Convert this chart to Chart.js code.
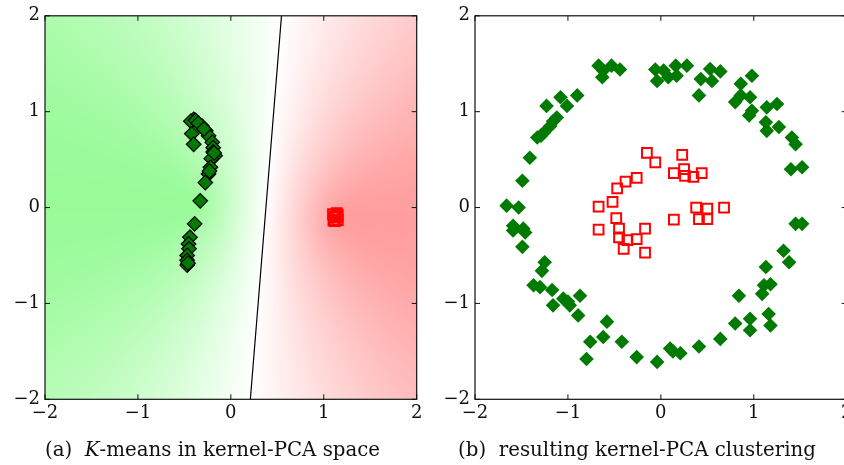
<!DOCTYPE html>
<html>
<head>
<meta charset="utf-8">
<script src="https://cdn.jsdelivr.net/npm/chart.js@4.4.1/dist/chart.umd.min.js"></script>
<style>
  html, body { margin: 0; padding: 0; background: #fff; width: 844px; height: 465px; overflow: hidden; }
  #wrap { position: relative; width: 844px; height: 465px; overflow: hidden; }
  canvas { position: absolute; top: 0; }
  .cap { position: absolute; top: 438px; font-family: "DejaVu Serif", serif; font-size: 19.8px; line-height: 24px; color: #111; white-space: nowrap; text-align: center; }
</style>
</head>
<body>
<div id="wrap">
  <canvas id="left" width="430" height="465" style="left:0px"></canvas>
  <canvas id="right" width="430" height="465" style="left:430px"></canvas>
  <div class="cap" id="capA" style="left:0px; width:425px;">(a)&nbsp; <i>K</i>-means in kernel-PCA space</div>
  <div class="cap" id="capB" style="left:430px; width:414px;">(b)&nbsp; resulting kernel-PCA clustering</div>
</div>
<script>
// ---------- data ----------
const tickValues = [-2, -1, 0, 1, 2];

// (a) points in kernel-PCA space
const leftGreenX = [-0.40, -0.43, -0.38, -0.31, -0.27, -0.24, -0.20, -0.19, -0.19, -0.17, -0.21, -0.42, -0.40, -0.22, -0.24, -0.275, -0.33, -0.39, -0.44, -0.455, -0.45, -0.47, -0.47, -0.47, -0.46, -0.35, -0.29, -0.18, -0.23];
const leftGreenY = [0.92, 0.90, 0.91, 0.85, 0.80, 0.75, 0.68, 0.625, 0.58, 0.54, 0.51, 0.77, 0.66, 0.42, 0.35, 0.26, 0.07, -0.17, -0.31, -0.38, -0.43, -0.50, -0.55, -0.60, -0.58, 0.88, 0.82, 0.57, 0.38];
const leftRedX = [1.10, 1.15, 1.12, 1.14, 1.105, 1.13, 1.12, 1.15];
const leftRedY = [-0.07, -0.13, -0.10, -0.06, -0.135, -0.095, -0.14, -0.08];
const boundaryX = [0.21, 0.545];
const boundaryY = [-2, 2];
const greenCenter = [-0.37, 0.025];
const redCenter = [1.12, -0.10];

// (b) resulting clustering in input space
const rightGreenX = [-0.67, -0.62, -0.63, -0.53, -0.44, -0.06, -0.04, 0.03, 0.08, 0.16, 0.17, 0.28, 0.43, 0.41, 0.53, 0.55, 0.64, 0.98, 0.86, 0.80, 0.86, 0.96, 0.95, 0.98, 1.14, 1.25, 1.13, 1.14, 1.27, 1.41, 1.45, 1.40, 1.52,
  -1.23, -1.08, -1.01, -0.90, -1.12, -1.19, -1.26, -1.33, -1.29, -1.16, -1.41, -1.49, -1.66, -1.53, -1.59, -1.48, 1.45, 1.52,
  -1.59, -1.46, -1.49, -1.25, -1.28, -1.37, -1.30, -1.17, -1.16, -1.05, -0.98, -0.87, -0.89, -1.00, -0.58, -0.76, -0.62, -0.80, -0.42, -0.26, -0.04, 0.10, 0.21, 0.41, 0.64, 0.84, 0.80, 0.96, 0.96, 1.11, 1.18, 1.09, 1.13, 1.32, 1.38, 1.16, 1.18, 0.13];
const rightGreenY = [1.48, 1.43, 1.36, 1.48, 1.44, 1.44, 1.32, 1.43, 1.36, 1.48, 1.375, 1.48, 1.34, 1.17, 1.445, 1.32, 1.42, 1.375, 1.29, 1.10, 1.17, 1.15, 0.96, 1.01, 1.045, 1.08, 0.89, 0.80, 0.84, 0.73, 0.66, 0.40, 0.42,
  1.06, 1.15, 1.06, 1.17, 0.94, 0.85, 0.78, 0.73, 0.75, 0.90, 0.52, 0.28, 0.02, 0.00, -0.19, -0.22, -0.17, -0.17,
  -0.24, -0.26, -0.41, -0.57, -0.66, -0.81, -0.83, -0.86, -1.02, -0.95, -1.02, -0.92, -1.125, -0.98, -1.19, -1.40, -1.35, -1.58, -1.40, -1.56, -1.61, -1.47, -1.52, -1.45, -1.37, -0.92, -1.21, -1.16, -1.28, -0.81, -0.80, -0.90, -0.62, -0.45, -0.57, -1.11, -1.23, -1.50];
const rightRedX = [-0.15, -0.06, 0.23, 0.25, 0.14, 0.26, 0.35, 0.44, -0.26, -0.38, -0.47, -0.67, -0.52, -0.48, 0.14, 0.38, 0.50, 0.68, 0.41, 0.50, -0.67, -0.45, -0.17, -0.45, -0.36, -0.26, -0.40, -0.17];
const rightRedY = [0.57, 0.47, 0.55, 0.40, 0.36, 0.33, 0.32, 0.36, 0.31, 0.27, 0.20, 0.01, 0.06, -0.11, -0.125, 0.00, -0.01, 0.00, -0.12, -0.12, -0.23, -0.22, -0.22, -0.31, -0.34, -0.33, -0.43, -0.47];

// ---------- helpers ----------
const zip = (xs, ys) => xs.map((x, i) => ({ x: x, y: ys[i] }));
const fmt = v => (v < 0 ? '\u2212' + Math.abs(v) : String(v));
const tickFont = { family: 'DejaVu Serif', size: 18 };

const backgroundPlugin = {
  id: 'kmeansBackground',
  beforeDatasetsDraw(chart, args, opts) {
    if (!opts || !opts.enabled) return;
    const ctx = chart.ctx, a = chart.chartArea, sx = chart.scales.x, sy = chart.scales.y;
    const L = Math.round(a.left), T = Math.round(a.top);
    const W = Math.round(a.right) - L, H = Math.round(a.bottom) - T;
    const img = ctx.createImageData(W, H);
    const D = Math.hypot(redCenter[0] - greenCenter[0], redCenter[1] - greenCenter[1]);
    for (let j = 0; j < H; j++) {
      const yv = sy.getValueForPixel(T + j + 0.5);
      for (let i = 0; i < W; i++) {
        const xv = sx.getValueForPixel(L + i + 0.5);
        const dg = Math.hypot(xv - greenCenter[0], yv - greenCenter[1]);
        const dr = Math.hypot(xv - redCenter[0], yv - redCenter[1]);
        let t = (dr - dg) / D;
        t = Math.max(-1, Math.min(1, t));
        let r, g, b;
        if (t >= 0) { r = 255 - t * 103; g = 255 - t * 4; b = 255 - t * 103; }
        else { const u = -t; r = 255; g = 255 - u * 97; b = 255 - u * 97; }
        const k = (j * W + i) * 4;
        img.data[k] = r; img.data[k + 1] = g; img.data[k + 2] = b; img.data[k + 3] = 255;
      }
    }
    ctx.putImageData(img, L, T);
  }
};

const framePlugin = {
  id: 'frameTicks',
  afterDatasetsDraw(chart) {
    const ctx = chart.ctx, a = chart.chartArea, sx = chart.scales.x, sy = chart.scales.y;
    ctx.save();
    ctx.strokeStyle = '#111';
    ctx.lineWidth = 1.2;
    ctx.strokeRect(a.left, a.top, a.right - a.left, a.bottom - a.top);
    ctx.lineWidth = 1;
    ctx.beginPath();
    const len = 5;
    tickValues.forEach(v => {
      const px = sx.getPixelForValue(v);
      ctx.moveTo(px, a.bottom); ctx.lineTo(px, a.bottom - len);
      ctx.moveTo(px, a.top); ctx.lineTo(px, a.top + len);
      const py = sy.getPixelForValue(v);
      ctx.moveTo(a.left, py); ctx.lineTo(a.left + len, py);
      ctx.moveTo(a.right, py); ctx.lineTo(a.right - len, py);
    });
    ctx.stroke();
    ctx.restore();
  }
};

function axis(isX) {
  return {
    type: 'linear', min: -2, max: 2,
    afterBuildTicks: s => { s.ticks = tickValues.map(v => ({ value: v })); },
    grid: { display: false, drawTicks: false },
    border: { display: false },
    ticks: { padding: isX ? 3 : 5, font: tickFont, color: '#111', callback: fmt, maxRotation: 0, autoSkip: false },
    afterFit: s => { if (isX) s.height = 65.7; else s.width = 45; }
  };
}

function makeChart(id, datasets, bg) {
  return new Chart(document.getElementById(id), {
    type: 'scatter',
    data: { datasets: datasets },
    options: {
      responsive: false, animation: false, devicePixelRatio: 1,
      layout: { padding: { left: 0, top: 15.3, right: 13.3, bottom: 0 } },
      plugins: { legend: { display: false }, tooltip: { enabled: false }, kmeansBackground: { enabled: bg } },
      scales: { x: axis(true), y: axis(false) }
    },
    plugins: [backgroundPlugin, framePlugin]
  });
}

makeChart('left', [
  { data: zip(boundaryX, boundaryY), showLine: true, borderColor: '#000', borderWidth: 1.2, pointRadius: 0 },
  { data: zip(leftGreenX, leftGreenY), pointStyle: 'rectRot', pointRadius: 7.3, backgroundColor: '#007a00', borderColor: '#000', borderWidth: 1.2 },
  { data: zip(leftRedX, leftRedY), pointStyle: 'rect', pointRadius: 6.9, backgroundColor: 'rgba(0,0,0,0)', borderColor: '#ff0000', borderWidth: 2.2 }
], true);

makeChart('right', [
  { data: zip(rightGreenX, rightGreenY), pointStyle: 'rectRot', pointRadius: 7.3, backgroundColor: '#007a00', borderColor: '#007a00', borderWidth: 0 },
  { data: zip(rightRedX, rightRedY), pointStyle: 'rect', pointRadius: 6.9, backgroundColor: 'rgba(0,0,0,0)', borderColor: '#ff0000', borderWidth: 2 }
], false);
</script>
</body>
</html>
